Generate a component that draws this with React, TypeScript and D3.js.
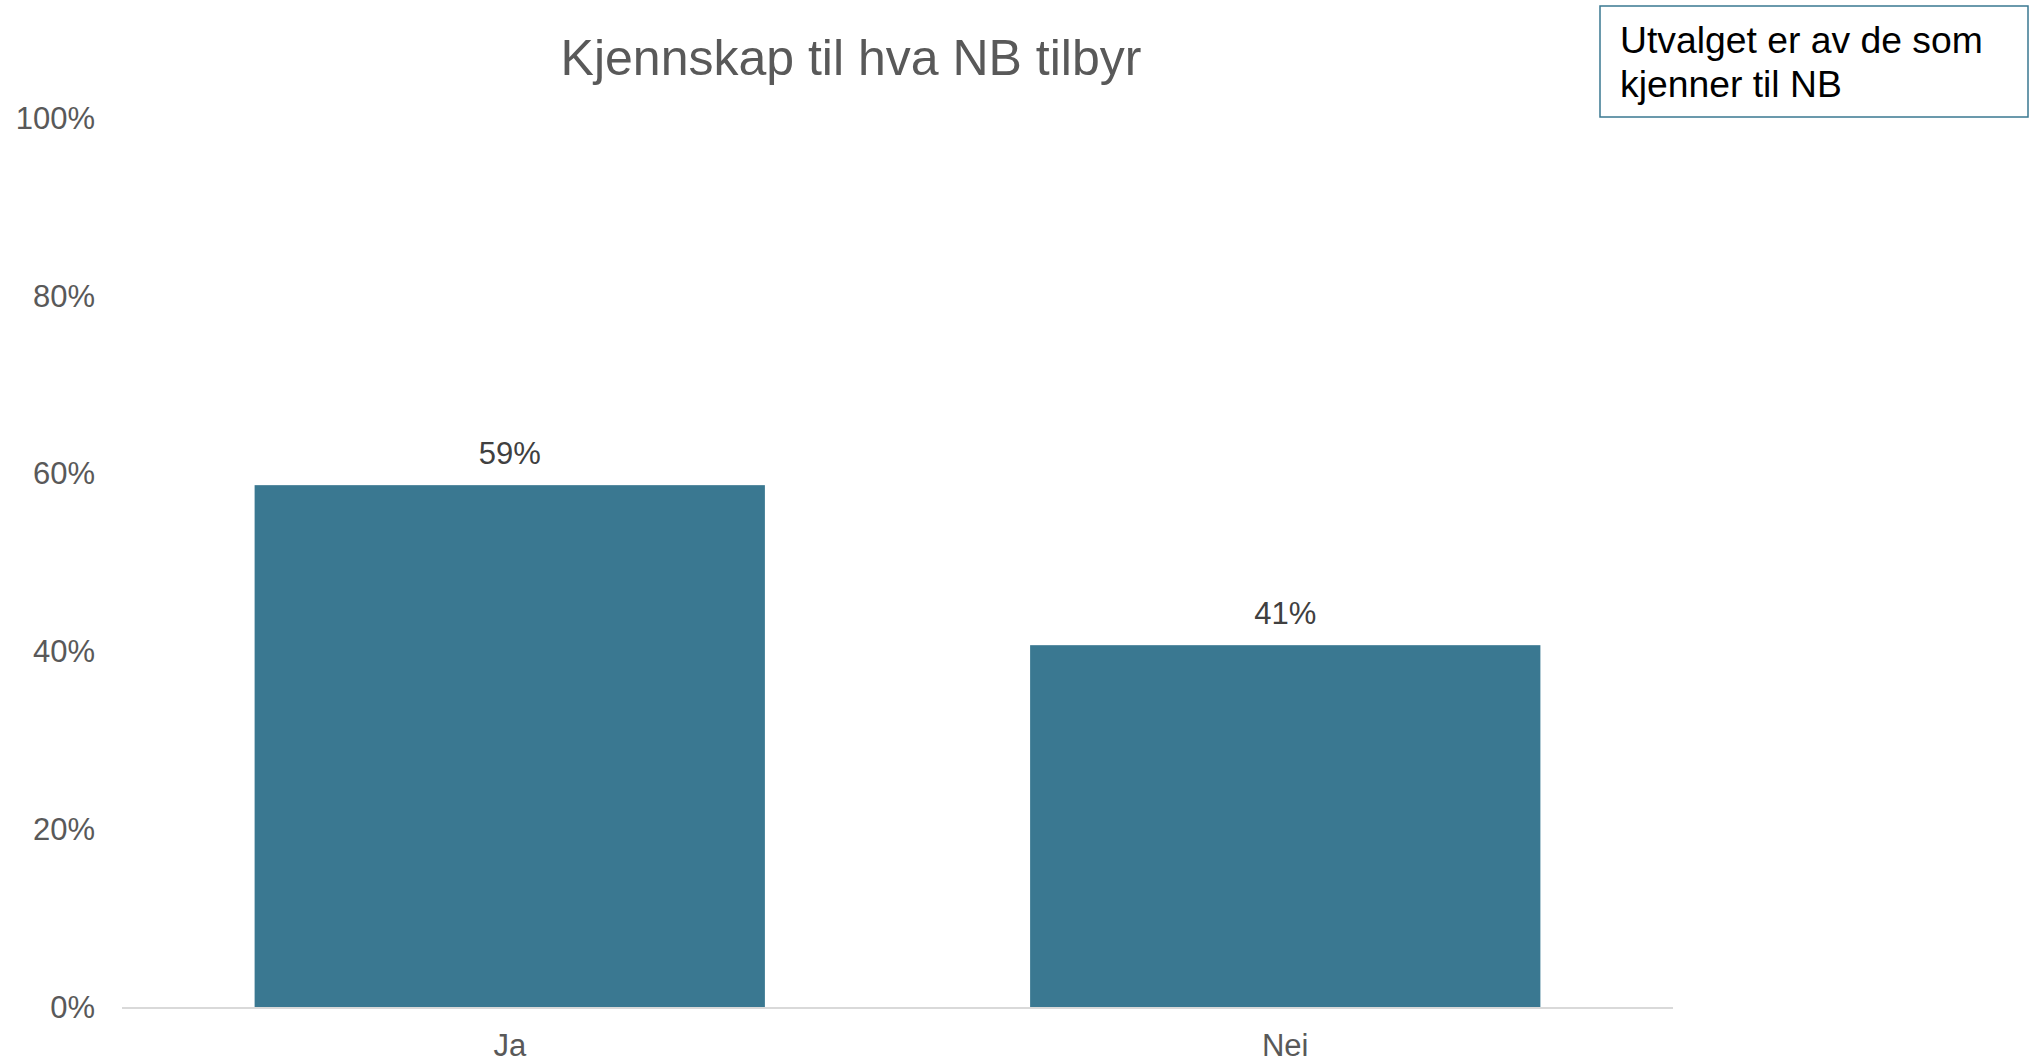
import React from "react";
import * as d3 from "d3";

const categories = ["Ja", "Nei"];
const values = [0.587, 0.407];
const yTicks = [0, 0.2, 0.4, 0.6, 0.8, 1.0];
const title = "Kjennskap til hva NB tilbyr";
const noteLines = ["Utvalget er av de som", "kjenner til NB"];

const W = 2038;
const H = 1063;
const FONT = "'Liberation Sans', Arial, sans-serif";

export default function App() {
  const x = d3
    .scaleBand<string>()
    .domain(categories)
    .range([122, 1673])
    .paddingInner(0.342)
    .paddingOuter(0.171);
  const y = d3.scaleLinear().domain([0, 1]).range([1007, 118]);
  const pct = d3.format(".0%");

  return (
    <svg
      width={W}
      height={H}
      style={{ position: "absolute", left: 0, top: 0, background: "#fff" }}
      fontFamily={FONT}
    >
      <text x={851} y={75} textAnchor="middle" fontSize={50} fill="#595959">
        {title}
      </text>
      {yTicks.map((t) => (
        <text
          key={t}
          x={95}
          y={y(t)}
          dy="0.35em"
          textAnchor="end"
          fontSize={31}
          fill="#595959"
        >
          {pct(t)}
        </text>
      ))}
      {categories.map((c, i) => (
        <g key={c}>
          <rect
            x={x(c)}
            y={y(values[i])}
            width={x.bandwidth()}
            height={y(0) - y(values[i])}
            fill="#3a7891"
          />
          <text
            x={(x(c) as number) + x.bandwidth() / 2}
            y={y(values[i]) - 21}
            textAnchor="middle"
            fontSize={31}
            fill="#404040"
          >
            {pct(values[i])}
          </text>
          <text
            x={(x(c) as number) + x.bandwidth() / 2}
            y={1056}
            textAnchor="middle"
            fontSize={31}
            fill="#595959"
          >
            {c}
          </text>
        </g>
      ))}
      <line x1={122} x2={1673} y1={1008} y2={1008} stroke="#d9d9d9" strokeWidth={2} />
      <rect x={1600} y={6} width={428} height={111} fill="#fff" stroke="#3a7891" strokeWidth={1.5} />
      {noteLines.map((l, i) => (
        <text key={i} x={1620} y={53 + i * 44} fontSize={37.3} fill="#000">
          {l}
        </text>
      ))}
    </svg>
  );
}
